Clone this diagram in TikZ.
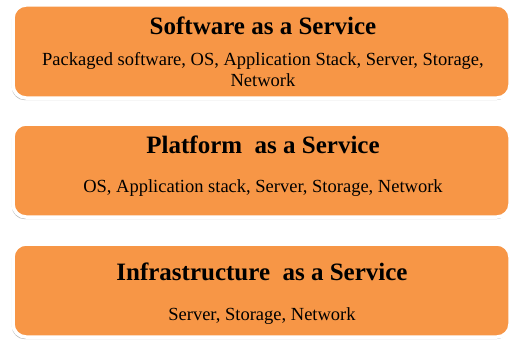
\documentclass[tikz,border=0pt]{standalone}
\usepackage{fontspec}
\setmainfont{Liberation Serif}
\usetikzlibrary{shadows}
\definecolor{boxorange}{HTML}{F79646}
\tikzset{
  layerbox/.style={draw=white, line width=3.5pt, fill=boxorange, rounded corners=13pt,
    drop shadow={shadow xshift=-1.2pt, shadow yshift=-2.2pt, fill=black!45, opacity=0.6}},
  titletext/.style={anchor=base, font=\fontsize{25}{28}\selectfont\bfseries, inner sep=0pt},
  subtext/.style={anchor=base, font=\fontsize{18.5}{21}\selectfont, inner sep=0pt, align=center}
}
\begin{document}
\begin{tikzpicture}[x=1pt,y=1pt]
\useasboundingbox (0,0) rectangle (511,341);
\fill[white] (0,0) rectangle (511,341);
\begin{scope}
\clip (0,0) rectangle (511,341);
% Box 1 (image y 5..98)
\path[layerbox] (13,243) rectangle (510,336);
\node[coordinate] (b1) at (261.5,289.5) {};
\node[titletext] (t1) at (263,306) {Software as a Service};
\node[subtext] (s1) at (263,276) {Packaged software, OS, Application Stack, Server, Storage,};
\node[subtext] (s1b) at (263,255) {Network};
% Box 2 (image y 124..217)
\path[layerbox] (13,124) rectangle (510,217);
\node[titletext] (t2) at (263,188) {Platform\ \ as a Service};
\node[subtext] (s2) at (263,149) {OS, Application stack, Server, Storage, Network};
% Box 3 (image y 244..337)
\path[layerbox] (13,4) rectangle (510,97);
\node[titletext] (t3) at (262,61) {Infrastructure\ \ as a Service};
\node[subtext] (s3) at (262,21) {Server, Storage, Network};
\end{scope}
\end{tikzpicture}
\end{document}
